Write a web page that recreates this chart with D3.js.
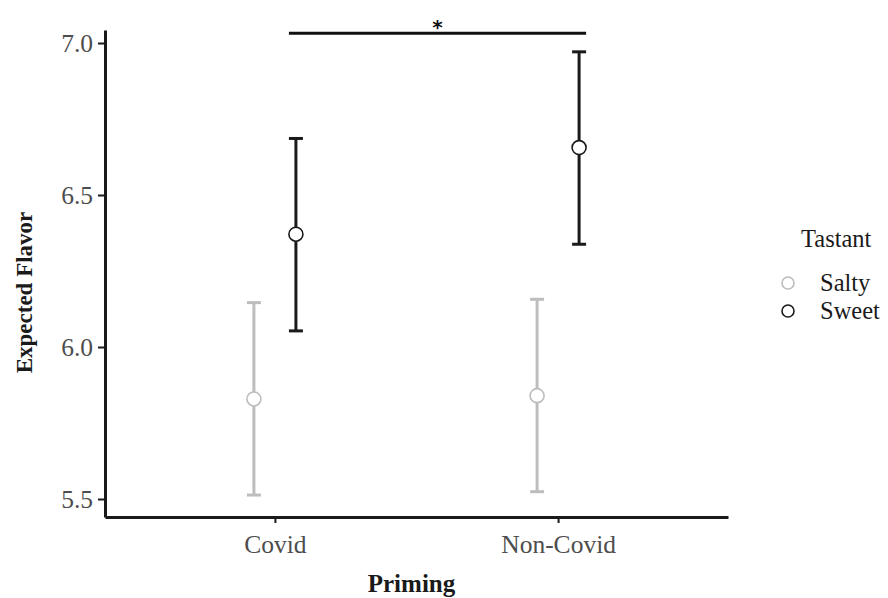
<!DOCTYPE html>
<html>
<head>
<meta charset="utf-8">
<script src="https://cdn.jsdelivr.net/npm/d3@7"></script>
<style>
  body { margin: 0; background: #fff; }
</style>
</head>
<body>
<svg id="chart" width="888" height="598"></svg>
<script>
// data
const priming = ["Covid", "Non-Covid"];
const tastants = ["Salty", "Sweet"];
const means = { Salty: [5.829, 5.840], Sweet: [6.371, 6.656] };
const lower = { Salty: [5.513, 5.524], Sweet: [6.053, 6.338] };
const upper = { Salty: [6.146, 6.157], Sweet: [6.686, 6.971] };
const yTicks = [5.5, 6.0, 6.5, 7.0];
const sigBar = { from: "Covid", to: "Non-Covid", y: 7.032, label: "*" };

const colors = { Salty: "#bdbdbd", Sweet: "#1a1a1a" };
const serif = "'Liberation Serif', 'Times New Roman', serif";

const svg = d3.select("#chart");
const plotL = 105, plotR = 728, plotT = 30, plotB = 517;

const x = d3.scalePoint()
  .domain(priming)
  .range([plotL, plotR])
  .padding(0.6); // ggplot's 0.6 discrete expansion

const y = d3.scaleLinear()
  .domain([5.4408, 7.0428])
  .range([plotB, plotT]);

const dodge = d3.scalePoint()
  .domain(tastants)
  .range([-21, 21]);

// axes
const yAxis = svg.append("g")
  .attr("transform", "translate(" + plotL + ",0)")
  .call(d3.axisLeft(y).tickValues(yTicks).tickFormat(d3.format(".1f"))
    .tickSize(7).tickSizeOuter(0).tickPadding(5));
const xAxis = svg.append("g")
  .attr("transform", "translate(0," + plotB + ")")
  .call(d3.axisBottom(x).tickSize(6).tickSizeOuter(0).tickPadding(6));

[yAxis, xAxis].forEach(function(g) {
  g.select(".domain").attr("stroke", "#1a1a1a").attr("stroke-width", 3);
  g.selectAll(".tick line").attr("stroke", "#1a1a1a").attr("stroke-width", 2);
  g.selectAll(".tick text")
    .attr("fill", "#4d4d4d")
    .style("font-family", serif)
    .style("font-size", "25.5px");
});
xAxis.selectAll(".tick text").attr("dy", "0.95em");
yAxis.selectAll(".tick text").attr("dy", "0.34em");

// axis titles
svg.append("text")
  .attr("transform", "translate(32," + ((plotT + plotB) / 2 + 19) + ") rotate(-90)")
  .attr("text-anchor", "middle")
  .style("font-family", serif)
  .style("font-size", "23px")
  .style("font-weight", "bold")
  .attr("fill", "#1a1a1a")
  .text("Expected Flavor");

svg.append("text")
  .attr("x", (plotL + plotR) / 2 - 5)
  .attr("y", 592)
  .attr("text-anchor", "middle")
  .style("font-family", serif)
  .style("font-size", "25px")
  .style("font-weight", "bold")
  .attr("fill", "#1a1a1a")
  .text("Priming");

// error bars and points
const rows = [];
tastants.forEach(function(t) {
  priming.forEach(function(p, i) {
    rows.push({ tastant: t, priming: p, mean: means[t][i], lo: lower[t][i], hi: upper[t][i] });
  });
});

const cx = d => x(d.priming) + dodge(d.tastant);

const bars = svg.append("g").selectAll("g")
  .data(rows)
  .enter()
  .append("g")
  .attr("stroke", d => colors[d.tastant])
  .attr("stroke-width", 3);

bars.append("line")
  .attr("x1", cx).attr("x2", cx)
  .attr("y1", d => y(d.lo)).attr("y2", d => y(d.hi));
bars.append("line")
  .attr("x1", d => cx(d) - 7).attr("x2", d => cx(d) + 7)
  .attr("y1", d => y(d.hi)).attr("y2", d => y(d.hi));
bars.append("line")
  .attr("x1", d => cx(d) - 7).attr("x2", d => cx(d) + 7)
  .attr("y1", d => y(d.lo)).attr("y2", d => y(d.lo));

svg.append("g").selectAll("circle")
  .data(rows)
  .enter()
  .append("circle")
  .attr("cx", cx)
  .attr("cy", d => y(d.mean))
  .attr("r", 7)
  .attr("fill", "#fff")
  .attr("stroke", d => colors[d.tastant])
  .attr("stroke-width", 1.6);

// significance bar
const sx1 = x(sigBar.from) + dodge("Sweet") - 7;
const sx2 = x(sigBar.to) + dodge("Sweet") + 7;
svg.append("line")
  .attr("x1", sx1).attr("x2", sx2)
  .attr("y1", y(sigBar.y)).attr("y2", y(sigBar.y))
  .attr("stroke", "#111")
  .attr("stroke-width", 3);
svg.append("text")
  .attr("x", (sx1 + sx2) / 2)
  .attr("y", y(sigBar.y) + 1)
  .attr("text-anchor", "middle")
  .style("font-size", "20px")
  .style("font-family", "'DejaVu Sans', sans-serif")
  .style("font-weight", "bold")
  .attr("fill", "#111")
  .text(sigBar.label);

// legend
const legend = svg.append("g");
legend.append("text")
  .attr("x", 801)
  .attr("y", 247)
  .style("font-family", serif)
  .style("font-size", "24.5px")
  .attr("fill", "#1a1a1a")
  .text("Tastant");

const items = legend.selectAll("g.item")
  .data(tastants)
  .enter()
  .append("g")
  .attr("class", "item")
  .attr("transform", (d, i) => "translate(0," + (283 + i * 28) + ")");
items.append("circle")
  .attr("cx", 788)
  .attr("cy", 0)
  .attr("r", 6)
  .attr("fill", "#fff")
  .attr("stroke", d => colors[d])
  .attr("stroke-width", 1.6);
items.append("text")
  .attr("x", 820)
  .attr("y", 0)
  .attr("dy", "0.33em")
  .style("font-family", serif)
  .style("font-size", "24.5px")
  .attr("fill", "#1a1a1a")
  .text(d => d);
</script>
</body>
</html>
